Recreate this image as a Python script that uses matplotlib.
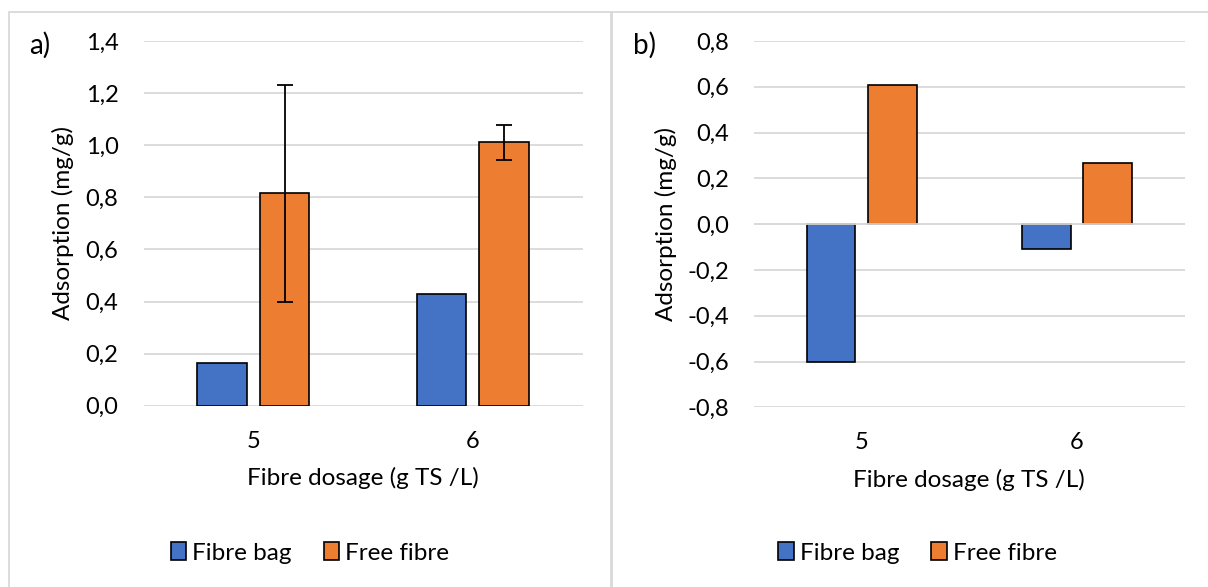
import matplotlib
matplotlib.use("Agg")
import matplotlib.pyplot as plt
import numpy as np
from matplotlib.patches import Rectangle
from matplotlib.ticker import FuncFormatter

plt.rcParams['font.family'] = ['Lato', 'DejaVu Sans']

dosage = ['5', '6']
series = ['Fibre bag', 'Free fibre']
colors = ['#4472C4', '#ED7D31']

# a) adsorption
bag_a = [0.163, 0.429]
free_a = [0.815, 1.011]
free_a_err = [0.417, 0.066]

# b) adsorption
bag_b = [-0.604, -0.110]
free_b = [0.607, 0.265]

W, H = 1208, 587
fig = plt.figure(figsize=(W / 100, H / 100), dpi=100)


def px_axes(x0, x1, y0, y1):
    # axes placed by pixel edges (y measured from the top)
    return fig.add_axes([x0 / W, 1 - y1 / H, (x1 - x0) / W, (y1 - y0) / H])


def comma(v, pos):
    if abs(v) < 1e-9:
        v = 0.0
    return f'{v:.1f}'.replace('.', ',')


def panel(ax, bag, free, err, ylim, step, label, label_x, chart_x0, chart_x1, ylab_x):
    x = np.arange(len(dosage))
    w = 0.226
    off = 0.143
    ax.bar(x - off, bag, w, color=colors[0], edgecolor='black', linewidth=1.2,
           label=series[0], zorder=3)
    ax.bar(x + off, free, w, color=colors[1], edgecolor='black', linewidth=1.2,
           label=series[1], zorder=3,
           yerr=err, error_kw=dict(ecolor='black', elinewidth=1.3, capsize=6, capthick=1.3, zorder=4))
    ax.set_xlim(-0.5, 1.5)
    ax.set_ylim(*ylim)
    ax.set_yticks(np.arange(ylim[0], ylim[1] + step / 2, step))
    ax.yaxis.set_major_formatter(FuncFormatter(comma))
    ax.set_xticks(x)
    ax.set_xticklabels(dosage)
    ax.grid(axis='y', color='#d9d9d9', linewidth=1.3, zorder=0)
    if ylim[0] < 0:
        ax.axhline(0, color='#d9d9d9', linewidth=1.3, zorder=5)
    for s in ax.spines.values():
        s.set_visible(False)
    ax.tick_params(axis='both', length=0, labelsize=17, colors='#000000')
    ax.tick_params(axis='y', pad=18)
    ax.tick_params(axis='x', pad=18)
    ax.set_xlabel('Fibre dosage (g TS /L)', fontsize=17.5, labelpad=11)
    ax.set_ylabel('Adsorption (mg/g)', fontsize=17.5)
    ax.yaxis.set_label_coords((ylab_x - px_left(ax)) / px_width(ax), 0.5)
    ax.set_axisbelow(True)

    # panel letter
    fig.text(label_x / W, 1 - 45 / H, label, fontsize=20, ha='left', va='center')

    # legend centred under the chart area
    handles, labels = ax.get_legend_handles_labels()
    handles = [h for h in handles if hasattr(h, 'patches')]
    fig.legend(handles, series, loc='center',
               bbox_to_anchor=((chart_x0 + chart_x1) / 2 / W, 1 - 553 / H),
               ncol=2, frameon=False, fontsize=17.5, handlelength=0.65,
               handleheight=0.7, handletextpad=0.25, columnspacing=1.3)


def px_left(ax):
    return ax.get_position().x0 * W


def px_width(ax):
    return ax.get_position().width * W


# chart area frames
fig.patches.append(Rectangle((9 / W, -0.1), (611 - 9) / W, 1.1 - 12 / H + 0.0,
                             transform=fig.transFigure, fill=False,
                             edgecolor='#d9d9d9', linewidth=1.3))
fig.patches.append(Rectangle((612 / W, -0.1), 0.6, 1.1 - 12 / H,
                             transform=fig.transFigure, fill=False,
                             edgecolor='#d9d9d9', linewidth=1.3))

ax1 = px_axes(143.5, 582.5, 41, 405.7)
panel(ax1, bag_a, free_a, free_a_err, (0, 1.4), 0.2, 'a)', 29, 9, 611, 74)

ax2 = px_axes(754, 1184.7, 41, 407.3)
panel(ax2, bag_b, free_b, None, (-0.8, 0.8), 0.2, 'b)', 633, 612, 1223, 677)

fig.savefig('out.png', dpi=100)
